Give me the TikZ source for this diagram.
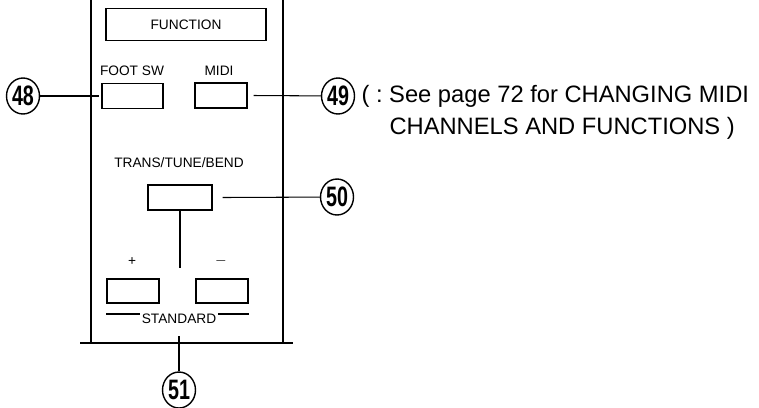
\documentclass[tikz,border=0pt]{standalone}
\usepackage{fontspec}
\setmainfont{Liberation Sans}
\newfontfamily\numfont[FakeStretch=0.7]{Liberation Sans}
\usetikzlibrary{positioning, shapes.geometric}
\frenchspacing

\begin{document}
\begin{tikzpicture}[x=0.02cm, y=-0.02cm, line width=0.6pt,
  key/.style={draw, minimum height=0.5cm, inner sep=0pt},
  lbl/.style={font=\fontsize{7.8}{9}\selectfont, inner sep=1pt},
  note/.style={font=\fontsize{13.5}{16}\selectfont, anchor=west, inner sep=0pt},
  num/.style={draw, ellipse, line width=0.8pt, minimum width=0.66cm, minimum height=0.72cm, inner sep=0pt, font=\numfont\bfseries\fontsize{16}{16}\selectfont}]
\useasboundingbox (0,0) rectangle (759,407);
% panel
\draw (91,0) -- (91,343);
\draw (283,0) -- (283,343);
\draw (80,343) -- (293,343);
% keys
\node[key, minimum width=3.2cm, minimum height=0.64cm] (func) at (186,24.5) {};
\node[lbl] at (func) {FUNCTION};
\node[key, minimum width=1.22cm] (foot) at (132.5,96) {};
\node[lbl] (footlbl) at (132,71) {FOOT SW};
\node[key, minimum width=1.04cm] (midi) at (221,95.5) {};
\node[lbl] (midilbl) at (219,71) {MIDI};
\node[key, minimum width=1.28cm] (trans) at (180,197.5) {};
\node[lbl] (translbl) at (179,163) {TRANS/TUNE/BEND};
\node[key, minimum width=1.04cm, minimum height=0.48cm] (plus) at (133,291) {};
\node[lbl] (pluslbl) at (132,262) {+};
\node[key, minimum width=1.04cm, minimum height=0.48cm] (minus) at (222,291) {};
\node[lbl] (minuslbl) at (221,261) {$-$};
\node[lbl] (std) at (179,319) {STANDARD};
\draw (plus.west |- 0,314) -- (std.west |- 0,314);
\draw (std.east |- 0,314) -- (minus.east |- 0,314);
\coordinate (stem) at (180,268);
\draw (trans.south) -- (stem);
% callouts
\node[num] (c48) at (23,96) {48};
\node[num] (c49) at (338,96) {49};
\node[num] (c50) at (337,197) {50};
\node[num] (c51) at (179,390) {51};
\draw (c48) -- ([xshift=-0.04cm]foot.west);
\draw ([xshift=0.12cm]midi.east) -- (c49);
\draw ([xshift=0.2cm]trans.east) -- (c50);
\coordinate (s51) at (179,336);
\draw (s51) -- (c51);
\node[note] (note1) at (361,96) {( : See page 72 for CHANGING MIDI};
\node[note] (note2) at (389,128) {CHANNELS AND FUNCTIONS )};
\end{tikzpicture}
\end{document}
